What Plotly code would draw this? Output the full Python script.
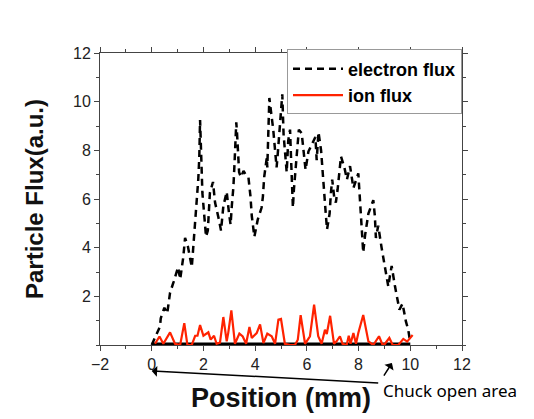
import plotly.graph_objects as go

# Electron flux (dashed black)
electron_x = [0.0, 0.13, 0.32, 0.35, 0.49, 0.6, 0.71, 0.85, 0.97, 1.02, 1.1, 1.22, 1.29, 1.4, 1.55, 1.62,
              1.7, 1.75, 1.8, 1.84, 1.87, 1.96, 2.02, 2.1, 2.17, 2.25, 2.37, 2.45, 2.6, 2.68, 2.77, 2.9,
              2.99, 3.05, 3.1, 3.16, 3.2, 3.25, 3.27, 3.3, 3.38, 3.45, 3.55, 3.64, 3.74, 3.82, 3.87, 3.97,
              4.1, 4.25, 4.3, 4.35, 4.45, 4.47, 4.5, 4.53, 4.55, 4.7, 4.78, 4.83, 4.87, 5.0, 5.05, 5.1,
              5.18, 5.22, 5.28, 5.35, 5.4, 5.46, 5.5, 5.57, 5.62, 5.69, 5.8, 5.86, 5.95, 6.06, 6.15, 6.25,
              6.33, 6.38, 6.45, 6.55, 6.6, 6.64, 6.72, 6.78, 6.88, 6.93, 6.98, 7.06, 7.12, 7.19, 7.27, 7.32,
              7.45, 7.55, 7.67, 7.8, 7.99, 8.03, 8.08, 8.13, 8.18, 8.25, 8.38, 8.57, 8.63, 8.67, 8.76, 8.89,
              9.02, 9.15, 9.2, 9.28, 9.41, 9.45, 9.58, 9.7, 9.83, 9.92, 10.0]
electron_y = [0.0, 0.3, 0.76, 1.1, 1.53, 1.3, 2.15, 2.6, 2.96, 3.2, 2.7, 3.6, 4.4, 4.05, 3.2, 4.2,
              5.0, 5.8, 6.8, 7.7, 9.25, 6.25, 5.4, 4.45, 4.7, 6.25, 6.7, 5.85, 5.15, 4.7, 5.7, 6.3,
              5.4, 4.95, 5.75, 6.5, 7.4, 8.3, 9.15, 8.7, 7.1, 6.9, 7.15, 7.0, 6.9, 6.1, 5.3, 4.45,
              5.15, 5.65, 6.1, 6.9, 7.7, 7.3, 8.45, 9.4, 10.15, 8.85, 8.0, 7.3, 7.8, 9.55, 10.3, 8.65,
              7.8, 7.1, 8.4, 8.85, 7.35, 5.65, 6.4, 7.3, 8.0, 8.85, 8.7, 8.0, 7.2, 7.95, 8.15, 8.35,
              8.55, 7.6, 8.75, 8.0, 7.2, 6.4, 5.55, 4.75, 5.4, 6.25, 6.8, 6.05, 5.85, 6.4, 7.3, 7.75,
              7.3, 6.8, 7.35, 6.45, 7.05, 6.3, 5.5, 4.65, 3.8, 4.5, 5.4, 5.95, 5.3, 4.4, 4.9, 4.0,
              3.25, 2.4, 2.75, 3.25, 2.4, 2.15, 1.45, 1.7, 0.97, 0.63, 0.1]

# Ion flux (solid red)
ion_x = [0.13, 0.3, 0.45, 0.71, 0.9, 1.1, 1.26, 1.38, 1.55, 1.68, 1.77, 1.87, 2.0, 2.19, 2.28, 2.41,
         2.51, 2.64, 2.77, 2.9, 2.96, 3.08, 3.22, 3.39, 3.52, 3.65, 3.78, 3.87, 4.06, 4.19, 4.32, 4.47,
         4.64, 4.77, 4.9, 5.0, 5.15, 5.35, 5.54, 5.65, 5.76, 5.93, 6.12, 6.28, 6.44, 6.57, 6.7, 6.77,
         6.9, 7.05, 7.15, 7.28, 7.38, 7.54, 7.62, 7.69, 7.8, 7.9, 7.99, 8.18, 8.38, 8.57, 8.79, 8.93,
         9.02, 9.19, 9.32, 9.54, 9.73, 9.88, 10.09]
ion_y = [0.05, 0.35, 0.05, 0.52, 0.05, 0.0, 0.9, 0.0, 0.0, 0.38, 0.38, 0.82, 0.38, 0.52, 0.22, 0.38,
         0.05, 0.1, 1.15, 0.15, 0.5, 1.42, 0.05, 0.47, 0.35, 0.05, 0.74, 0.29, 0.49, 0.85, 0.08, 0.47,
         0.36, 0.05, 1.04, 1.07, 0.05, 0.0, 0.0, 0.22, 1.23, 0.05, 0.36, 1.66, 0.36, 0.05, 0.63, 0.45,
         1.2, 0.05, 0.15, 0.36, 0.05, 0.0, 0.38, 0.05, 0.49, 0.05, 0.49, 1.23, 0.15, 0.0, 0.36, 0.0,
         0.05, 0.29, 0.0, 0.0, 0.25, 0.14, 0.41]

# Chuck open area (thick bar along the baseline)
chuck_x = [0, 10]
chuck_y = [0, 0]

x_ticks = [-2, 0, 2, 4, 6, 8, 10, 12]
y_ticks = [2, 4, 6, 8, 10, 12]

fig = go.Figure()
fig.add_trace(go.Scatter(x=chuck_x, y=chuck_y, mode="lines", showlegend=False,
                         line=dict(color="black", width=5), cliponaxis=False))
fig.add_trace(go.Scatter(x=electron_x, y=electron_y, mode="lines", name="<b>electron flux</b>",
                         line=dict(color="black", width=2.5, dash="7px,5px")))
fig.add_trace(go.Scatter(x=ion_x, y=ion_y, mode="lines", name="<b>ion flux</b>",
                         line=dict(color="#ff2200", width=2.2)))

axis_common = dict(showline=True, linecolor="#444", linewidth=1, mirror="ticks",
                   ticks="outside", ticklen=5, tickcolor="#444", showgrid=False, zeroline=False,
                   automargin=False,
                   tickfont=dict(family="Liberation Sans, Arial", size=16, color="#222"))

fig.update_xaxes(range=[-2, 12], tickvals=x_ticks, **axis_common,
                 minor=dict(dtick=1, ticks="outside", ticklen=3, tickcolor="#444"),
                 title=dict(text="<b>Position (mm)</b>", standoff=15,
                            font=dict(family="Liberation Sans, Arial", size=27, color="#111")))
fig.update_yaxes(range=[0, 12], tickvals=y_ticks, **axis_common,
                 minor=dict(dtick=1, ticks="outside", ticklen=3, tickcolor="#444"),
                 title=dict(text="<b>Particle Flux(a.u.)</b>", standoff=22,
                            font=dict(family="Liberation Sans, Arial", size=24, color="#111")))

fig.add_annotation(x=0, y=-0.089, xref="x", yref="paper", ax=228, ay=12, text="",
                   showarrow=True, arrowhead=1, arrowsize=1.2, arrowwidth=1.5, arrowcolor="black")
fig.add_annotation(x=9.29, y=-0.062, xref="x", yref="paper", ax=-9, ay=14, text="",
                   showarrow=True, arrowhead=1, arrowsize=1.2, arrowwidth=1.5, arrowcolor="black")
fig.add_annotation(x=0.775, y=-0.155, xref="paper", yref="paper", xanchor="left", yanchor="middle",
                   text="Chuck open area", showarrow=False,
                   font=dict(family="Noto Sans", size=17, color="black"))

fig.update_layout(
    width=534, height=419,
    margin=dict(l=92, r=80, t=45, b=82),
    paper_bgcolor="white", plot_bgcolor="white",
    legend=dict(x=1, y=1.012, xanchor="right", yanchor="top", bgcolor="white",
                bordercolor="#999", borderwidth=1, tracegroupgap=0,
                font=dict(family="Liberation Sans, Arial", size=18, color="black"),
                itemwidth=50),
    hovermode=False,
)

fig.write_html("out.html")
